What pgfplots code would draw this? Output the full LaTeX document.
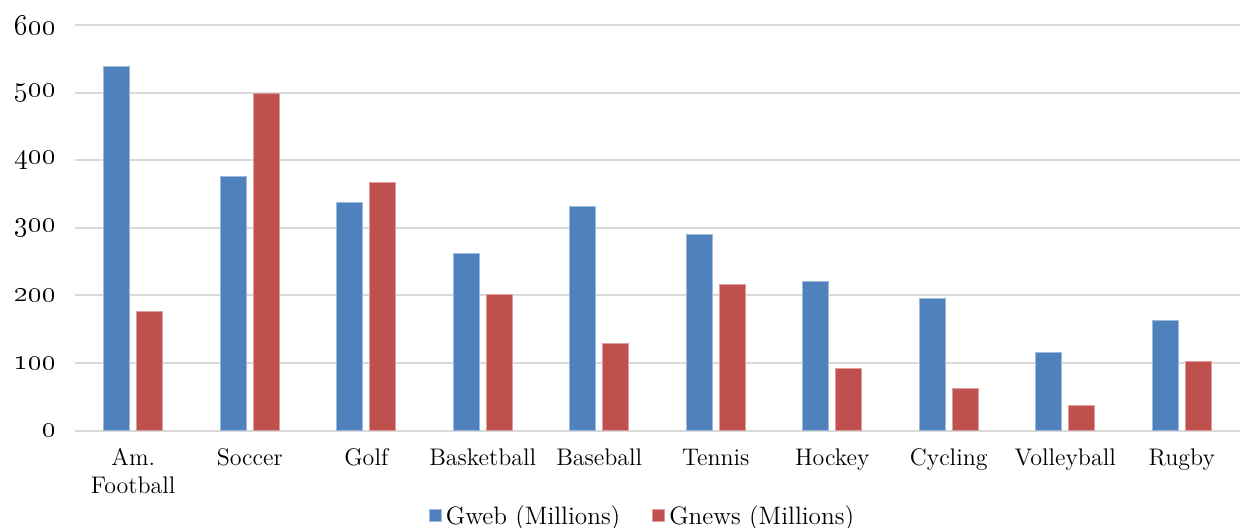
\documentclass[border=0pt]{standalone}
\usepackage{pgfplots}
\pgfplotsset{compat=1.18}
\definecolor{gweb}{HTML}{4F81BD}
\definecolor{gnews}{HTML}{C0504D}
\definecolor{gridgray}{HTML}{D9D9D9}
\newcommand{\chartfont}{\fontsize{12}{14}\selectfont}
\newcommand{\legendfont}{\fontsize{12.6}{14}\selectfont}
\newcommand{\tickfont}{\fontsize{14.5}{16}\selectfont}
\begin{document}
\begin{tikzpicture}
\useasboundingbox (0,0) rectangle (620.5pt,263.5pt);
\begin{axis}[
  at={(37.5pt,48.15pt)}, anchor=south west,
  scale only axis, width=582.5pt, height=202.85pt,
  ybar=3.5pt, bar width=13pt,
  xmin=-0.5, xmax=9.5, ymin=0, ymax=600,
  xtick={0,...,9},
  xticklabels={{Am.\\Football},Soccer,Golf,Basketball,Baseball,Tennis,Hockey,Cycling,Volleyball,Rugby},
  xticklabel style={align=center, font=\chartfont, anchor=north, yshift=-5.5pt},
  ytick={0,100,...,600},
  yticklabels={\oldstylenums{0},\oldstylenums{100},\oldstylenums{200},\oldstylenums{300},\oldstylenums{400},\oldstylenums{500},\oldstylenums{600}},
  yticklabel style={font=\tickfont, anchor=east, xshift=-6pt},
  major tick length=0pt,
  axis line style={draw=none},
  ymajorgrids, major grid style={draw=gridgray, line width=1pt},
  legend columns=2,
  legend style={draw=none, fill=none, font=\legendfont, at={(0.488,-0.259)}, anchor=south,
    /tikz/every even column/.append style={column sep=14pt}},
  legend image code/.code={\fill[#1] (0pt,-2.5pt) rectangle (6pt,3.5pt);},
]
\addplot[fill=gweb, draw=gweb!55!white, line width=0.5pt] coordinates {
  (0,538) (1,376) (2,337) (3,262) (4,332) (5,290) (6,220) (7,195) (8,115) (9,163)};
\addplot[fill=gnews, draw=gnews!55!white, line width=0.5pt] coordinates {
  (0,176) (1,499) (2,367) (3,201) (4,129) (5,216) (6,92) (7,63) (8,38) (9,102)};
\legend{Gweb (Millions), Gnews (Millions)}
\end{axis}
\end{tikzpicture}
\end{document}
